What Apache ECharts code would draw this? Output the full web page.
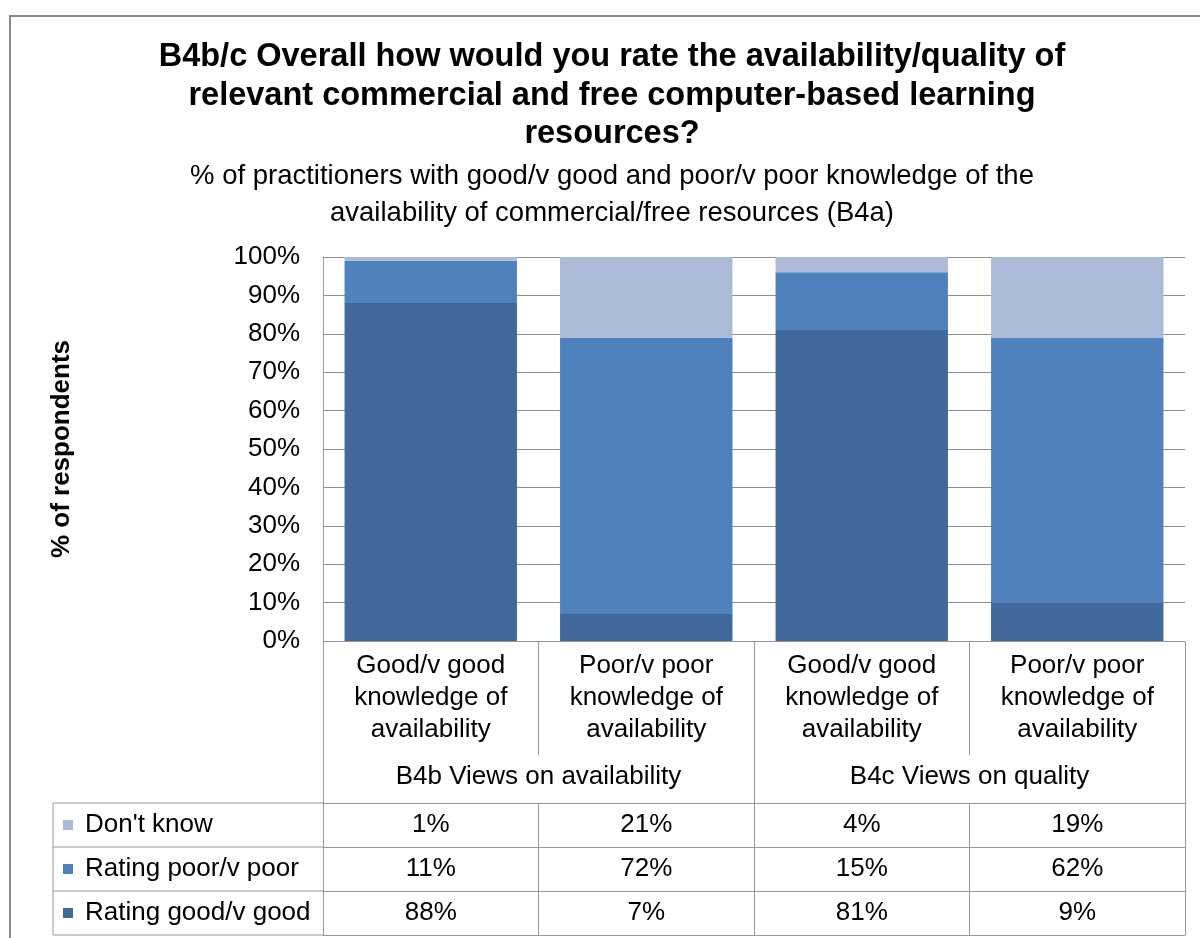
<!DOCTYPE html>
<html>
<head>
<meta charset="utf-8">
<title>B4b/c availability and quality of learning resources</title>
<script src="https://cdn.jsdelivr.net/npm/echarts@6/dist/echarts.min.js"></script>
<style>
  html, body { margin: 0; padding: 0; background: #ffffff; }
  #chart { width: 1200px; height: 938px; }
</style>
</head>
<body>
<div id="chart"></div>
<script>
// Column categories (multi-line axis labels) and their survey groups
const categories = [
  'Good/v good\nknowledge of\navailability',
  'Poor/v poor\nknowledge of\navailability',
  'Good/v good\nknowledge of\navailability',
  'Poor/v poor\nknowledge of\navailability'
];
const groups = ['B4b Views on availability', 'B4c Views on quality'];

// Responses, % of practitioners in each column
const ratingGood = [88, 7, 81, 9];
const ratingPoor = [11, 72, 15, 62];
const dontKnow = [1, 21, 4, 19];

const nameGood = 'Rating good/v good';
const namePoor = 'Rating poor/v poor';
const nameDontKnow = "Don't know";

// 100% stacked: each column is scaled to the sum of its answers
const totals = categories.map((_, i) => ratingGood[i] + ratingPoor[i] + dontKnow[i]);
const share = arr => arr.map((v, i) => v / totals[i] * 100);

const colors = { good: '#41699b', poor: '#4f81bd', dontKnow: '#aabad7' };
const FONT = "'Liberation Sans', Arial, Helvetica, sans-serif";
const LINE = '#999999';
const TEXT_SIZE = 26;

// Plot area and table geometry
const G = { left: 323, right: 15, top: 257, bottom: 297 };
const plotBottom = 938 - G.bottom;
const catLabelH = 114;   // category label band under the plot
const groupH = 48;       // group label band
const rowH = 44;         // data table row height
const legendLeft = 53;

const tableTop = plotBottom + catLabelH + groupH;

function rowAxis(values, index) {
  return {
    type: 'category',
    gridIndex: 0,
    position: 'bottom',
    offset: catLabelH + groupH + index * rowH,
    data: values.map(v => v + '%'),
    axisLine: { show: true, lineStyle: { color: LINE, width: 1 } },
    axisTick: { show: true, length: rowH, lineStyle: { color: LINE, width: 1 } },
    axisLabel: { color: '#000', fontSize: TEXT_SIZE, fontFamily: FONT, lineHeight: 28, margin: 8, interval: 0 },
    splitLine: { show: false }
  };
}

const chart = echarts.init(document.getElementById('chart'), null, { renderer: 'canvas' });

const option = {
  backgroundColor: '#ffffff',
  animation: false,
  title: [
    {
      text: 'B4b/c Overall how would you rate the availability/quality of\nrelevant commercial and free computer-based learning\nresources?',
      left: 612, top: 38, padding: 0, textAlign: 'center',
      textStyle: { fontFamily: FONT, fontSize: 32.5, fontWeight: 'bold', color: '#000', lineHeight: 38.5 }
    },
    {
      text: '% of practitioners with good/v good and poor/v poor knowledge of the\navailability of commercial/free resources (B4a)',
      left: 612, top: 158, padding: 0, textAlign: 'center',
      textStyle: { fontFamily: FONT, fontSize: 27.5, fontWeight: 'normal', color: '#000', lineHeight: 37 }
    }
  ],
  legend: {
    data: [nameDontKnow, namePoor, nameGood],
    orient: 'vertical',
    left: 63, top: tableTop + 8,
    padding: 0,
    icon: 'rect', itemWidth: 10, itemHeight: 10, itemGap: 16,
    selectedMode: false,
    textStyle: { fontFamily: FONT, fontSize: TEXT_SIZE, color: '#000', lineHeight: 28, padding: [0, 0, 0, 7] }
  },
  grid: { left: G.left, right: G.right, top: G.top, bottom: G.bottom, containLabel: false },
  xAxis: [
    {
      type: 'category',
      position: 'bottom',
      data: categories,
      axisLine: { show: true, lineStyle: { color: LINE, width: 1 } },
      axisTick: { show: true, length: catLabelH, lineStyle: { color: LINE, width: 1 } },
      axisLabel: { color: '#000', fontSize: TEXT_SIZE, fontFamily: FONT, lineHeight: 32, margin: 9, interval: 0 },
      splitLine: { show: false }
    },
    {
      type: 'category',
      gridIndex: 0,
      position: 'bottom',
      offset: catLabelH,
      data: groups,
      axisLine: { show: false },
      axisTick: { show: true, length: groupH, lineStyle: { color: LINE, width: 1 } },
      axisLabel: { color: '#000', fontSize: TEXT_SIZE, fontFamily: FONT, lineHeight: 28, margin: 8, interval: 0 },
      splitLine: { show: false }
    },
    rowAxis(dontKnow, 0),
    rowAxis(ratingPoor, 1),
    rowAxis(ratingGood, 2),
    {
      // closing line of the data table
      type: 'category',
      gridIndex: 0,
      position: 'bottom',
      offset: catLabelH + groupH + 3 * rowH,
      data: categories.map(() => ''),
      axisLine: { show: true, lineStyle: { color: LINE, width: 1 } },
      axisTick: { show: false },
      axisLabel: { show: false },
      splitLine: { show: false }
    }
  ],
  yAxis: {
    type: 'value',
    min: 0, max: 100, interval: 10,
    name: '% of respondents',
    nameLocation: 'middle',
    nameRotate: 90,
    nameGap: 248,
    nameTextStyle: { fontFamily: FONT, fontSize: TEXT_SIZE, fontWeight: 'bold', color: '#000' },
    axisLine: { show: true, lineStyle: { color: LINE, width: 1 } },
    axisTick: { show: false },
    axisLabel: { formatter: '{value}%', color: '#000', fontSize: TEXT_SIZE, fontFamily: FONT, margin: 23 },
    splitLine: { show: true, lineStyle: { color: '#8e8e8e', width: 1 } }
  },
  series: [
    { name: nameGood, type: 'bar', stack: 'total', data: share(ratingGood), itemStyle: { color: colors.good }, barCategoryGap: '20%' },
    { name: namePoor, type: 'bar', stack: 'total', data: share(ratingPoor), itemStyle: { color: colors.poor }, barCategoryGap: '20%' },
    { name: nameDontKnow, type: 'bar', stack: 'total', data: share(dontKnow), itemStyle: { color: colors.dontKnow }, barCategoryGap: '20%' }
  ],
  graphic: [
    // chart frame
    { type: 'rect', silent: true, shape: { x: 10, y: 16, width: 1200, height: 940 },
      style: { fill: null, stroke: '#8a8a8a', lineWidth: 2 } },
    // legend column of the data table
    { type: 'line', silent: true, shape: { x1: legendLeft, y1: tableTop, x2: legendLeft, y2: tableTop + 3 * rowH },
      style: { stroke: LINE, lineWidth: 1 } },
    ...[0, 1, 2, 3].map(i => ({
      type: 'line', silent: true,
      shape: { x1: legendLeft, y1: tableTop + i * rowH, x2: G.left, y2: tableTop + i * rowH },
      style: { stroke: LINE, lineWidth: 1 }
    }))
  ]
};

chart.setOption(option);
</script>
</body>
</html>
